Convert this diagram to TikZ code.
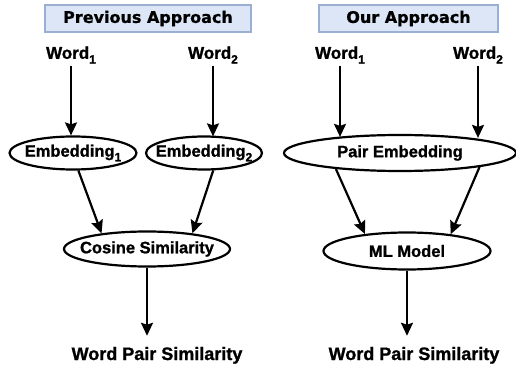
\documentclass[tikz,border=0pt]{standalone}
\usepackage{fontspec}
\setmainfont{Liberation Sans}[BoldFeatures={FakeBold=1.2}]
\newfontfamily\titlefont{DejaVu Sans}[BoldFeatures={FakeBold=0.8}]
\usetikzlibrary{shapes.geometric,arrows.meta}
\definecolor{titlefill}{HTML}{DCE6F6}
\definecolor{titledraw}{HTML}{9AAFD2}
\newcommand\mysub[1]{\raisebox{-0.28em}{\fontsize{12}{12}\selectfont #1}}
\tikzset{
  titlebox/.style={draw=titledraw, fill=titlefill, line width=1.2pt, inner sep=0pt,
    font=\titlefont\bfseries\fontsize{16}{18}\selectfont},
  wordnode/.style={inner sep=2pt, font=\bfseries\fontsize{17}{20}\selectfont},
  ell/.style={ellipse, draw, line width=2.2pt, inner xsep=-25pt, inner ysep=-8pt,
    font=\bfseries\fontsize{16.5}{20}\selectfont},
  outnode/.style={inner sep=0pt, anchor=base, font=\bfseries\fontsize{18}{20}\selectfont},
  arr/.style={line width=2.2pt, -{Stealth[length=13pt,width=12pt,inset=2pt]}}
}
\begin{document}
\begin{tikzpicture}[x=1pt,y=1pt]
\useasboundingbox (0,0) rectangle (516,364);
% titles
\node[titlebox, minimum width=206pt, minimum height=27pt] (t1) at (148,345.5) {Previous Approach};
\node[titlebox, minimum width=179pt, minimum height=27pt] (t2) at (408.5,345.5) {Our Approach};
% words
\node[wordnode] (w1L) at (71,309) {Word\mysub{1}};
\node[wordnode] (w2L) at (213,309) {Word\mysub{2}};
\node[wordnode] (w1R) at (340,309) {Word\mysub{1}};
\node[wordnode] (w2R) at (478,309) {Word\mysub{2}};
% ellipses
\node[ell, minimum width=127pt, minimum height=33pt] (e1) at (73,211) {Embedding\mysub{1}};
\node[ell, minimum width=116pt, minimum height=33pt] (e2) at (204,211) {Embedding\mysub{2}};
\node[ell, minimum width=166pt, minimum height=35pt] (cs) at (147,115) {Cosine Similarity};
\node[ell, minimum width=232pt, minimum height=36pt] (pe) at (400,211) {Pair Embedding};
\node[ell, minimum width=167pt, minimum height=37pt] (ml) at (407,113) {ML Model};
% outputs
\node[outnode] (o1) at (157,4) {Word Pair Similarity};
\node[outnode] (o2) at (414,4) {Word Pair Similarity};
% arrows left
\draw[arr] (w1L.south) -- (w1L.south |- e1.north);
\draw[arr] (w2L.south) -- ([yshift=-1pt]w2L.south |- e2.north);
\draw[arr] (e1.-73) -- (cs.161);
\draw[arr] (e2.-62) -- (cs.19);
\draw[arr] (cs.south) -- ([yshift=11pt]cs.south |- o1.north);
% arrows right
\draw[arr] (w1R.south) -- ([yshift=-3pt]w1R.south |- pe.north);
\draw[arr] (w2R.south) -- ([yshift=-4pt]w2R.south |- pe.north);
\draw[arr] (pe.-166) -- (ml.158);
\draw[arr] (pe.-10) -- (ml.21);
\draw[arr] (ml.south) -- ([yshift=11pt]ml.south |- o2.north);
\end{tikzpicture}
\end{document}
